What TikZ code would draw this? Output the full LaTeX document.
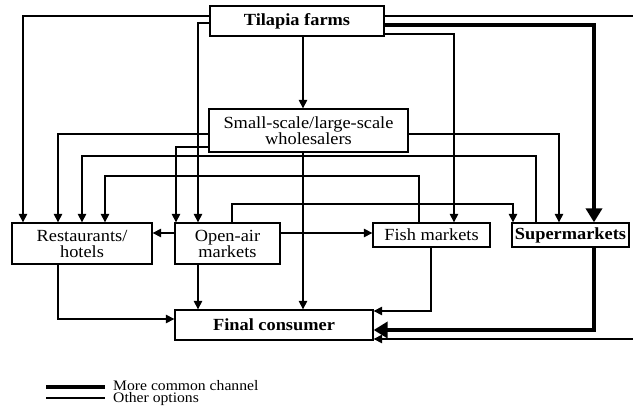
\documentclass[tikz,border=0pt]{standalone}
\usepackage{fontspec}
\setmainfont[FakeStretch=1.08]{Liberation Serif}
\usetikzlibrary{arrows.meta}
\begin{document}
\begin{tikzpicture}[x=1pt,y=-1pt,
  txt/.style={font=\fontsize{17}{16}\selectfont},
  box/.style={draw,line width=1.3pt,inner sep=0pt,align=center,txt},
  bbox/.style={box,font=\fontsize{17}{16}\selectfont\bfseries},
  con/.style={line width=1.2pt,-{Triangle[length=8.5pt,width=8.5pt]}},
  plain/.style={line width=1.2pt},
  bigcon/.style={line width=4pt,-{Triangle[length=14pt,width=16pt]}},
  lab/.style={anchor=base west,inner sep=0pt,font=\fontsize{14.5}{16}\selectfont}]
\useasboundingbox (0,0) rectangle (633,406);
\clip (0,0) rectangle (633,406);
\node[bbox,minimum width=174pt,minimum height=30pt] (farms) at (297,21) {Tilapia farms};
\node[box,minimum width=199pt,minimum height=43pt] (whole) at (308.5,130.5) {Small-scale/large-scale\\wholesalers};
\node[box,minimum width=140pt,minimum height=41pt] (rest) at (82,243.5) {Restaurants/\\hotels};
\node[box,minimum width=105pt,minimum height=41pt] (open) at (227.5,243.5) {Open-air\\markets};
\node[box,minimum width=117pt,minimum height=24pt] (fish) at (431.5,235) {Fish markets};
\node[bbox,minimum width=117pt,minimum height=24pt] (super) at (570.5,235) {Supermarkets};
\node[bbox,minimum width=198pt,minimum height=30pt] (cons) at (274,325) {Final consumer};
% from farms
\draw[con] (farms.west|-0,16) -| (rest.north-|23,0);
\draw[con] (farms.west|-0,23) -| (open.north-|198,0);
\draw[con] (farms.south-|303,0) -- (whole.north-|303,0);
\draw[con] (farms.east|-0,34) -| (fish.north-|454,0);
\draw[bigcon] (farms.east|-0,25) -| (super.north-|594,0);
\draw[con] (farms.east|-0,16) -- (650,16) |- (cons.east|-0,339);
% from wholesalers
\draw[con] (whole.west|-0,134) -| (rest.north-|58,0);
\draw[con] (whole.west|-0,147) -| (open.north-|176,0);
\draw[con] (whole.south-|303,0) -- (cons.north-|303,0);
\draw[con] (whole.east|-0,134) -| (super.north-|559,0);
% crossing links
\draw[con] (super.north-|536,0) -- (536,156) -| (rest.north-|82,0);
\draw[con] (fish.north-|419,0) -- (419,176) -| (rest.north-|105,0);
\draw[con] (open.north-|232,0) -- (232,204) -| (super.north-|513,0);
\draw[con] (open.east|-0,233) -- (fish.west|-0,233);
\draw[con] (open.west|-0,233) -- (rest.east|-0,233);
% to consumer
\draw[con] (open.south-|198,0) -- (cons.north-|198,0);
\draw[con] (rest.south-|58,0) |- (cons.west|-0,319);
\draw[con] (fish.south-|431,0) |- (cons.east|-0,311);
\draw[bigcon] (super.south-|594,0) |- (cons.east|-0,330);
% legend
\coordinate (l1a) at (46,387); \coordinate (l1b) at (105,387);
\coordinate (l2a) at (46,398); \coordinate (l2b) at (105,398);
\draw[line width=4pt] (l1a) -- (l1b);
\draw[plain] (l2a) -- (l2b);
\node[lab] (t1) at (113,390.5) {More common channel};
\node[lab] (t2) at (113,402.8) {Other options};
\end{tikzpicture}
\end{document}
